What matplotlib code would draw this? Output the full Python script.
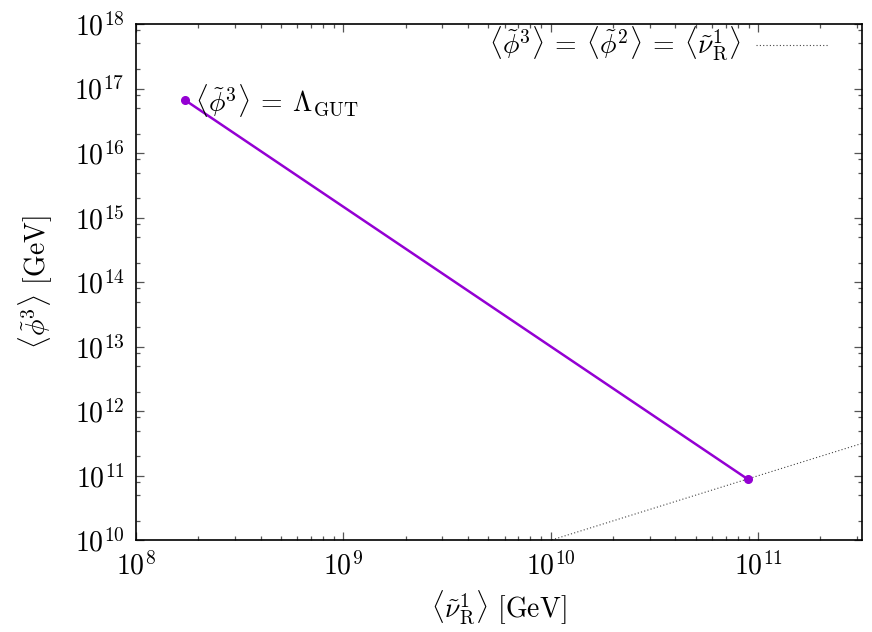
import numpy as np
import matplotlib
matplotlib.use("Agg")
import matplotlib.pyplot as plt
from matplotlib.ticker import LogLocator, NullFormatter

plt.rcParams['mathtext.fontset'] = 'cm'
plt.rcParams['font.family'] = 'serif'
plt.rcParams['font.serif'] = ['cmr10', 'DejaVu Serif']
plt.rcParams['axes.formatter.use_mathtext'] = True

# data
nu_R = [1.73e8, 8.9e10]          # <nu_R^1> [GeV]
phi3 = [6.6e16, 8.9e10]          # <phi^3> [GeV]
diag = [1e8, 10**11.5]           # line <phi3> = <phi2> = <nu_R^1>

xlim = (1e8, 10**11.5)
ylim = (1e10, 1e18)

purple = '#9400D3'

fig = plt.figure(figsize=(8.72, 6.32), dpi=100)
ax = fig.add_axes([0.1557, 0.1451, 0.8325, 0.8169])

ax.set_xscale('log')
ax.set_yscale('log')

ax.plot(diag, diag, color='#444444', lw=0.8, ls=(0, (1, 2)),
        label=r'$\langle\tilde{\phi}^3\rangle\:=\:\langle\tilde{\phi}^2\rangle\:=\:\langle\tilde{\nu}^1_{\mathrm{R}}\rangle$')
ax.plot(nu_R, phi3, color=purple, lw=1.8, marker='o', ms=5.5)

ax.annotate(r'$\langle\tilde{\phi}^3\rangle\:=\:\Lambda_{\mathrm{GUT}}$',
            xy=(nu_R[0], phi3[0]), xytext=(7, 0), textcoords='offset points',
            va='center', ha='left', fontsize=20)

ax.set_xlim(*xlim)
ax.set_ylim(*ylim)

ax.xaxis.set_major_locator(LogLocator(base=10, numticks=20))
ax.xaxis.set_minor_locator(LogLocator(base=10, subs=np.arange(2, 10), numticks=20))
ax.yaxis.set_major_locator(LogLocator(base=10, numticks=20))
ax.yaxis.set_minor_locator(LogLocator(base=10, subs=[2, 5, 8], numticks=20))
ax.xaxis.set_minor_formatter(NullFormatter())
ax.yaxis.set_minor_formatter(NullFormatter())

ax.tick_params(which='both', direction='in', top=True, right=True,
               color='#555555', width=0.9, labelsize=20)
ax.tick_params(which='major', length=6, pad=8)
ax.tick_params(which='minor', length=3.2)
for sp in ax.spines.values():
    sp.set_linewidth(1.2)

ax.set_xlabel(r'$\langle\tilde{\nu}^1_{\mathrm{R}}\rangle$ [GeV]', fontsize=20, labelpad=6)
ax.set_ylabel(r'$\langle\tilde{\phi}^3\rangle$ [GeV]', fontsize=20, labelpad=14)

ax.legend(loc='upper right', frameon=False, markerfirst=False, fontsize=20,
          handlelength=2.6, handletextpad=0.55,
          bbox_to_anchor=(0.977, 1.03), borderaxespad=0.2)

fig.savefig('out.png', dpi=100)
